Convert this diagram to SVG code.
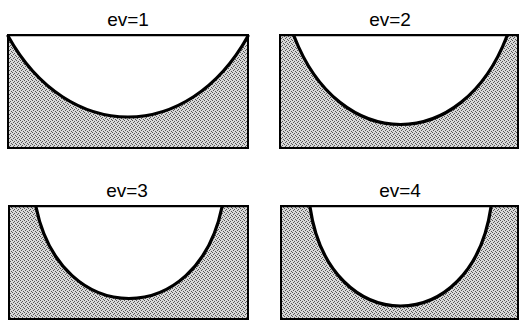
<svg xmlns="http://www.w3.org/2000/svg" width="519" height="321" viewBox="0 0 519 321">
<style>
.lbl{font-family:"Liberation Sans",Arial,sans-serif;font-size:19px;fill:#000;text-anchor:middle}
.box{fill:url(#stip);stroke:#000;stroke-width:2}
.hole{fill:#fff;stroke:none}
.curve{fill:none;stroke:#000;stroke-width:3.2;stroke-linecap:round}
.top{stroke:#000;stroke-width:1.5}
.d{fill:#555}
</style>
<defs>
<pattern id="stip" width="4" height="4" patternUnits="userSpaceOnUse">
<rect width="4" height="4" fill="#d8d8d8"/>
<rect class="d" x="0" y="0" width="1" height="1"/>
<rect class="d" x="2" y="1" width="1" height="1"/>
<rect class="d" x="1" y="2" width="1" height="1"/>
<rect class="d" x="3" y="3" width="1" height="1"/>
</pattern>
</defs>
<rect width="519" height="321" fill="#fff"/>
<g id="panel-ev1">
<text class="lbl" x="128" y="26">ev=1</text>
<rect class="box" x="8" y="35" width="240" height="113"/>
<path class="hole" d="M8,36 C68,144 188,144 248,36 Z"/>
<line class="top" x1="8" y1="35.5" x2="248" y2="35.5"/>
<path class="curve" d="M8,36 C68,144 188,144 248,36"/>
</g>
<g id="panel-ev2">
<text class="lbl" x="390" y="26">ev=2</text>
<rect class="box" x="280" y="35" width="238" height="113"/>
<path class="hole" d="M294,36 C339,154 462,154 507,36 Z"/>
<line class="top" x1="280" y1="35.5" x2="518" y2="35.5"/>
<path class="curve" d="M294,36 C339,154 462,154 507,36"/>
</g>
<g id="panel-ev3">
<text class="lbl" x="127" y="197">ev=3</text>
<rect class="box" x="9" y="206" width="239" height="113"/>
<path class="hole" d="M36,207 C61,329 197,329 222,207 Z"/>
<line class="top" x1="9" y1="206.5" x2="248" y2="206.5"/>
<path class="curve" d="M36,207 C61,329 197,329 222,207"/>
</g>
<g id="panel-ev4">
<text class="lbl" x="400" y="197">ev=4</text>
<rect class="box" x="281" y="206" width="237" height="113"/>
<path class="hole" d="M310,207 C329,339 472,339 491,207 Z"/>
<line class="top" x1="281" y1="206.5" x2="518" y2="206.5"/>
<path class="curve" d="M310,207 C329,339 472,339 491,207"/>
</g>
</svg>
